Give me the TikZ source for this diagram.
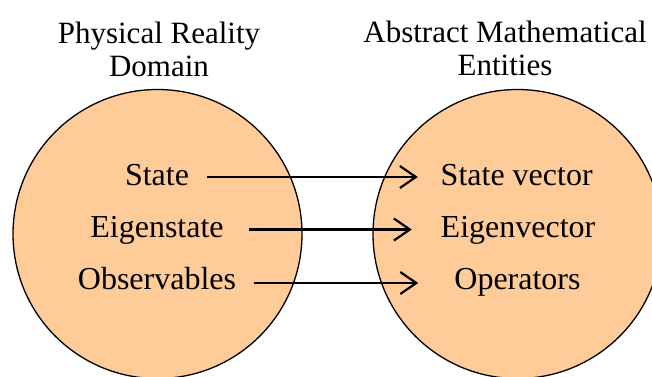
\documentclass[tikz,border=0pt]{standalone}
\usepackage{fontspec}
\setmainfont{Liberation Serif}
\usetikzlibrary{arrows.meta}
\definecolor{peach}{HTML}{FFCC99}
\begin{document}
\begin{tikzpicture}[x=1pt,y=-1pt,
  realm/.style={circle,draw=black,line width=1.3pt,fill=peach,minimum size=289pt,inner sep=0pt},
  lbl/.style={inner sep=0pt,font=\fontsize{32}{33}\selectfont,text height=22.4pt,text depth=6.4pt},
  ttl/.style={inner sep=0pt,align=center,anchor=north,font=\fontsize{31}{33}\selectfont},
  arr/.style={line width=2.2pt,-{Straight Barb[length=16pt,width=22pt,line width=2.2pt]}}]
\useasboundingbox (0,0) rectangle (652,376);
\clip (0,0) rectangle (652,376);
\node[realm] (L) at (157.5,234) {};
\node[realm] (R) at (517.5,234) {};
\node[ttl] (tl) at (159,21.5) {Physical Reality\\Domain};
\node[ttl] (tr) at (505,20.5) {Abstract Mathematical\\Entities};
\node[lbl] (l1) at (157,177) {State};
\node[lbl] (l2) at (157,229.5) {Eigenstate};
\node[lbl] (l3) at (157,281) {Observables};
\node[lbl] (r1) at (516.7,177) {State vector};
\node[lbl] (r2) at (518,229.5) {Eigenvector};
\node[lbl] (r3) at (517.5,281) {Operators};
\draw[arr,shorten <=18pt,shorten >=22.7pt] (l1.east) -- (r1.west);
\draw[arr,shorten <=25pt,shorten >=28.7pt] (l2.east) -- (r2.west);
\draw[arr,shorten <=18pt,shorten >=36pt] ([yshift=-2pt]l3.east) -- ([yshift=-2pt]r3.west);
\end{tikzpicture}
\end{document}
